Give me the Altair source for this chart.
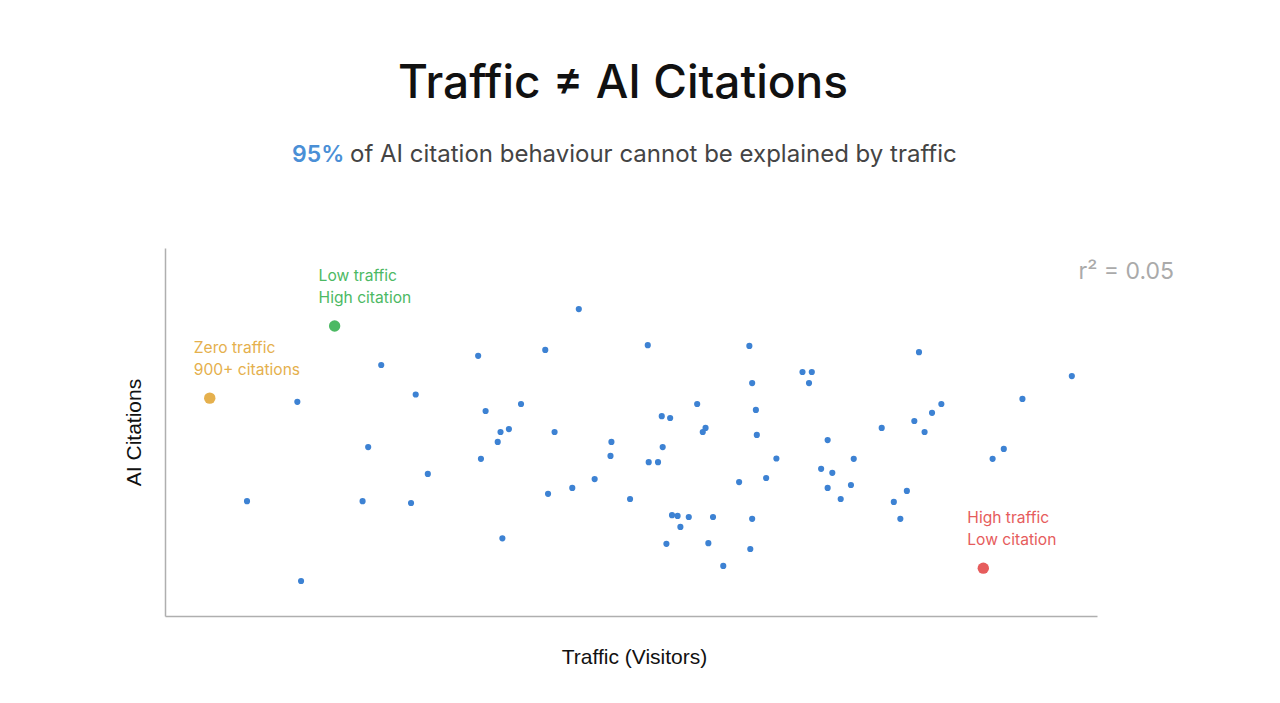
import altair as alt
import pandas as pd

# Scatter data (arbitrary units 0-1000 on both axes)
traffic = [88, 142, 146, 212, 218, 232, 264, 269, 282, 336, 339, 344, 357, 360, 362,
           369, 382, 408, 411, 418, 437, 444, 461, 479, 478, 499, 518, 519, 529, 533,
           534, 538, 542, 544, 550, 553, 562, 571, 577, 580, 583, 588, 599, 616, 627,
           628, 630, 630, 634, 635, 645, 656, 684, 694, 691, 704, 711, 716, 711, 725,
           736, 739, 769, 782, 789, 796, 804, 809, 815, 823, 833, 888, 900, 920, 973]
citations = [312, 582, 95, 312, 459, 682, 307, 602, 386, 707, 427, 557, 473, 500, 211,
             508, 576, 723, 332, 500, 348, 834, 372, 473, 435, 318, 736, 418, 418, 543,
             459, 196, 538, 274, 272, 242, 269, 576, 500, 511, 198, 269, 136, 364, 734,
             182, 633, 264, 560, 492, 375, 428, 663, 663, 633, 400, 478, 389, 348, 318,
             356, 427, 511, 310, 264, 340, 530, 717, 500, 552, 576, 427, 454, 590, 652]

hl_traffic = [48, 182, 878]
hl_citations = [592, 788, 130]
hl_labels = ["Zero traffic\n900+ citations", "Low traffic\nHigh citation", "High traffic\nLow citation"]
hl_colors = ["#E5B04D", "#4CB963", "#E65C5C"]
hl_text_colors = ["#E0B563", "#5DB871", "#E06464"]

title_text = "Traffic \u2260 AI Citations"
subtitle_hl = "95%"
subtitle_rest = "of AI citation behaviour cannot be explained by traffic"
r2_text = "r\u00b2 = 0.05"

pts = pd.DataFrame({"traffic": traffic, "citations": citations})
hl = pd.DataFrame({"traffic": hl_traffic, "citations": hl_citations, "label": hl_labels})
one = pd.DataFrame({"k": [0]})

xs = alt.Scale(domain=[0, 1000], nice=False, zero=False)
ys = alt.Scale(domain=[0, 1000], nice=False, zero=False)

x_enc = alt.X("traffic:Q", scale=xs, title="Traffic (Visitors)",
              axis=alt.Axis(ticks=False, labels=False, grid=False, titlePadding=30,
                            titleX=469,
                            titleFont="Liberation Sans", titleFontSize=21,
                            titleFontWeight="normal", titleColor="#111"))
y_enc = alt.Y("citations:Q", scale=ys, title="AI Citations",
              axis=alt.Axis(ticks=False, labels=False, grid=False, titlePadding=21,
                            titleFont="Liberation Sans", titleFontSize=21,
                            titleFontWeight="normal", titleColor="#111"))

base_pts = alt.Chart(pts).mark_circle(size=38, color="#3D82D3", opacity=1).encode(
    x=x_enc, y=y_enc)

hl_pts = alt.Chart(hl).mark_circle(size=130, opacity=1).encode(
    x=alt.X("traffic:Q", scale=xs),
    y=alt.Y("citations:Q", scale=ys),
    color=alt.Color("label:N", scale=alt.Scale(domain=hl_labels, range=hl_colors), legend=None))

hl_txt = alt.Chart(hl).mark_text(align="left", baseline="alphabetic", dx=-16, dy=-45,
                                 fontSize=15.6, lineHeight=22, lineBreak="\n",
                                 font="Inter").encode(
    x=alt.X("traffic:Q", scale=xs),
    y=alt.Y("citations:Q", scale=ys),
    text="label:N",
    color=alt.Color("label:N", scale=alt.Scale(domain=hl_labels, range=hl_text_colors), legend=None))

title = alt.Chart(one).mark_text(text=title_text, font="Inter", fontSize=46, fontWeight=500,
                                 color="#111", align="center", baseline="alphabetic").encode(
    x=alt.value(458), y=alt.value(-150))
sub1 = alt.Chart(one).mark_text(text=subtitle_hl, font="Inter", fontSize=23, fontWeight=600,
                                color="#4A8FD6", align="left", baseline="alphabetic").encode(
    x=alt.value(127), y=alt.value(-86))
sub2 = alt.Chart(one).mark_text(text=subtitle_rest, font="Inter", fontSize=24,
                                color="#444", align="left", baseline="alphabetic").encode(
    x=alt.value(185), y=alt.value(-86))
r2 = alt.Chart(one).mark_text(text=r2_text, font="Inter", fontSize=23,
                              color="#AAAAAA", align="right", baseline="alphabetic").encode(
    x=alt.value(1009), y=alt.value(31))

chart = alt.layer(base_pts, hl_pts, hl_txt, title, sub1, sub2, r2).properties(
    width=932, height=368,
    autosize=alt.AutoSizeParams(type="none"),
    padding={"left": 165, "top": 248, "right": 183, "bottom": 87},
    background="white",
).configure_view(stroke=None).configure_axis(
    domainColor="#AFAFAF", domainWidth=1.5
)

chart.save("out.html", embed_options={"renderer": "svg", "actions": False})
